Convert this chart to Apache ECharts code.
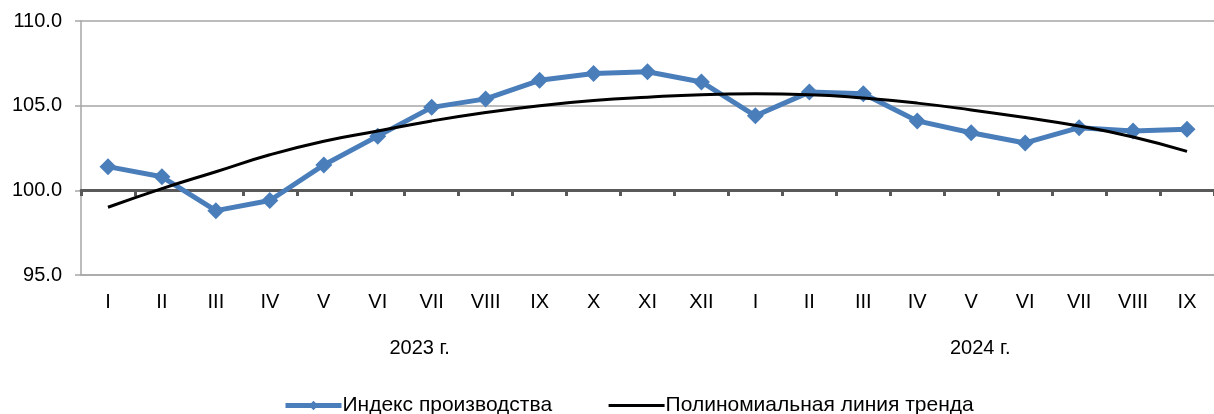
<!DOCTYPE html>
<html>
<head>
<meta charset="utf-8">
<script src="https://cdn.jsdelivr.net/npm/echarts@6/dist/echarts.min.js"></script>
<style>html,body{margin:0;padding:0;background:#fff;}#c{width:1214px;height:414px;}</style>
</head>
<body>
<div id="c"></div>
<script>
const months = ['I','II','III','IV','V','VI','VII','VIII','IX','X','XI','XII','I','II','III','IV','V','VI','VII','VIII','IX'];
const years = ['2023 г.', '2024 г.'];
const productionIndex = [101.4,100.8,98.8,99.4,101.5,103.2,104.9,105.4,106.5,106.9,107.0,106.4,104.4,105.8,105.7,104.1,103.4,102.8,103.7,103.5,103.6];
const trendLine = [99.0,100.1,101.1,102.1,102.9,103.5,104.1,104.6,105.0,105.3,105.5,105.65,105.7,105.65,105.45,105.15,104.75,104.3,103.8,103.15,102.3];
const yTicks = {min: 95, max: 110, step: 5};

const yearAxisData = months.map(() => '');
yearAxisData[6] = {value: years[0], textStyle: {padding: [0, 24, 0, 0]}};
yearAxisData[16] = {value: years[1], textStyle: {padding: [0, 0, 0, 18]}};

const font = 'Liberation Sans, Arial, sans-serif';
const chart = echarts.init(document.getElementById('c'));
chart.setOption({
  animation: false,
  backgroundColor: '#fff',
  textStyle: {fontFamily: font},
  grid: {left: 81, top: 21, width: 1134, height: 254, containLabel: false},
  legend: {
    top: 395, left: 283, itemWidth: 56, itemHeight: 12, itemGap: 55, padding: 0,
    textStyle: {fontSize: 21, color: '#000', fontFamily: font, padding: [0,0,0,-4]},
    data: [
      {name: 'Индекс производства', lineStyle: {width: 5, color: '#4a7ebb'}, itemStyle: {color: '#4a7ebb'}},
      {name: 'Полиномиальная линия тренда', lineStyle: {width: 3, color: '#000'}, itemStyle: {color: 'rgba(0,0,0,0)', borderWidth: 0}}
    ]
  },
  xAxis: [
    {
      type: 'category', data: months, position: 'bottom', boundaryGap: true,
      axisLine: {show: true, lineStyle: {color: '#a6a6a6', width: 1.5}},
      axisTick: {show: false},
      axisLabel: {interval: 0, fontSize: 20, color: '#000', margin: 17, fontFamily: font}
    },
    {
      type: 'category', data: yearAxisData, position: 'bottom', boundaryGap: true,
      axisLine: {show: false}, axisTick: {show: false},
      axisLabel: {interval: 0, fontSize: 20, color: '#000', margin: 63, fontFamily: font}
    },
    {
      type: 'category', data: months, position: 'top', offset: -169, boundaryGap: true,
      axisLine: {show: true, lineStyle: {color: '#595959', width: 3}},
      axisTick: {show: true, inside: true, length: 6, lineStyle: {color: '#595959', width: 3}},
      axisLabel: {show: false}
    }
  ],
  yAxis: {
    type: 'value', min: yTicks.min, max: yTicks.max, interval: yTicks.step,
    axisLine: {show: true, lineStyle: {color: '#a6a6a6', width: 1.5}},
    axisTick: {show: true, length: 6, lineStyle: {color: '#a6a6a6', width: 1.5}},
    splitLine: {show: true, lineStyle: {color: '#a6a6a6', width: 1.5}},
    axisLabel: {fontSize: 20, color: '#000', margin: 19, fontFamily: font, formatter: v => v.toFixed(1)}
  },
  series: [
    {
      name: 'Индекс производства', type: 'line', data: productionIndex,
      symbol: 'diamond', symbolSize: 17,
      lineStyle: {color: '#4a7ebb', width: 5},
      itemStyle: {color: '#4a7ebb'},
      z: 3
    },
    {
      name: 'Полиномиальная линия тренда', type: 'line', data: trendLine,
      smooth: true, showSymbol: false, symbol: 'none',
      lineStyle: {color: '#000', width: 3},
      itemStyle: {color: '#000'},
      z: 4
    }
  ]
});
</script>
</body>
</html>
